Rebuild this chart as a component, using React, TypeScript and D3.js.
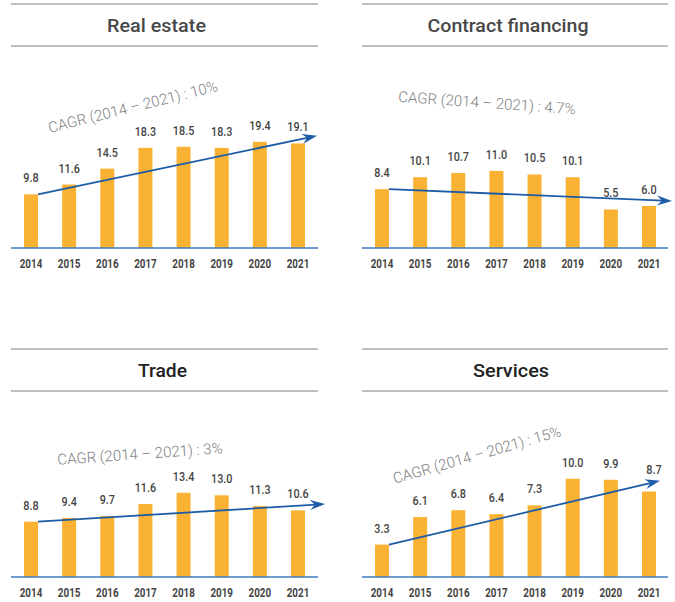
import React from "react";
import * as d3 from "d3";

const years = ["2014", "2015", "2016", "2017", "2018", "2019", "2020", "2021"];
const titles = ["Real estate", "Contract financing", "Trade", "Services"];
const realEstate = [9.8, 11.6, 14.5, 18.3, 18.5, 18.3, 19.4, 19.1];
const contractFinancing = [8.4, 10.1, 10.7, 11.0, 10.5, 10.1, 5.5, 6.0];
const trade = [8.8, 9.4, 9.7, 11.6, 13.4, 13.0, 11.3, 10.6];
const services = [3.3, 6.1, 6.8, 6.4, 7.3, 10.0, 9.9, 8.7];
const cagrLabels = [
  "CAGR (2014 – 2021) : 10%",
  "CAGR (2014 – 2021) : 4.7%",
  "CAGR (2014 – 2021) : 3%",
  "CAGR (2014 – 2021) : 15%",
];
const trendEnd = [20.5, 6.7, 11.6, 9.8];
const seriesList = [realEstate, contractFinancing, trade, services];

// layout per panel
const layout = [
  { x0: 11, x1: 318, top: 4, base: 248, dMax: 20.1, tipDx: 306, cagr: [122, -141, -14], titleDx: -8, titleW: 99, titleFill: "#484848", lastDx: 0, lastDy: 0 },
  { x0: 362, x1: 668, top: 4, base: 248, dMax: 15.7, tipDx: 310, cagr: [125, -145, 4], titleDx: -7, titleW: 161, titleFill: "#484848", lastDx: 0, lastDy: 0 },
  { x0: 11, x1: 318, top: 349, base: 577, dMax: 17.5, tipDx: 314, cagr: [129, -123, -4], titleDx: -2, titleW: 49, titleFill: "#222222", lastDx: 0, lastDy: 0 },
  { x0: 362, x1: 668, top: 349, base: 577, dMax: 11.2, tipDx: 298, cagr: [115, -122, -16], titleDx: -4, titleW: 76, titleFill: "#222222", lastDx: 5, lastDy: -6 },
];

const FONT = "Roboto, 'DejaVu Sans', sans-serif";
const BAR = "#F9B233";
const ARROW = "#1D5CA6";
const BASE = "#3C7DC0";
const RULE = "#AAAAAA";

function NarrowText({ x, y, size, sx, weight, children }: { x: number; y: number; size: number; sx: number; weight: number; children: React.ReactNode }) {
  return (
    <g transform={`translate(${x},${y}) scale(${sx},1)`}>
      <text x={0} y={0} textAnchor="middle" fontFamily={FONT} fontWeight={weight} fontSize={size} fill="#444444">
        {children}
      </text>
    </g>
  );
}

function Panel({ i }: { i: number }) {
  const L = layout[i];
  const values = seriesList[i];
  const x = d3.scalePoint<string>().domain(years).range([L.x0 + 20, L.x0 + 287]);
  const y = d3.scaleLinear().domain([0, L.dMax]).range([L.base, L.base - 110]);
  const bw = 14;
  const sx = (x(years[0]) as number) + bw / 2;
  const sy = y(values[0]);
  const tx = L.x0 + L.tipDx;
  const ty = y(trendEnd[i]);
  const ang = Math.atan2(ty - sy, tx - sx);
  const headLen = 13;
  const headW = 5;
  const c = Math.cos(ang);
  const s = Math.sin(ang);
  const bx = tx - headLen * c;
  const by = ty - headLen * s;
  const px = -s;
  const py = c;
  const head: [number, number][] = [
    [tx, ty],
    [bx + px * headW - 2 * c, by + py * headW - 2 * s],
    [bx + 3 * c, by + 3 * s],
    [bx - px * headW - 2 * c, by - py * headW - 2 * s],
  ];
  const line = d3.line();
  const lineEnd: [number, number] = [bx + 4 * c, by + 4 * s];
  const midX = (L.x0 + L.x1) / 2 + L.titleDx;
  const last = values.length - 1;
  return (
    <g>
      <line x1={L.x0} x2={L.x1} y1={L.top} y2={L.top} stroke={RULE} strokeWidth={1.5} />
      <line x1={L.x0} x2={L.x1} y1={L.top + 42} y2={L.top + 42} stroke={RULE} strokeWidth={1.5} />
      <text
        x={midX}
        y={L.top + 28}
        textAnchor="middle"
        fontFamily={FONT}
        fontWeight={500}
        fontSize={19}
        textLength={L.titleW}
        lengthAdjust="spacingAndGlyphs"
        fill={L.titleFill}
      >
        {titles[i]}
      </text>
      {values.map((v, k) => (
        <rect
          key={years[k]}
          x={(x(years[k]) as number) - bw / 2}
          y={y(v)}
          width={bw}
          height={L.base - y(v)}
          fill={BAR}
        />
      ))}
      <line x1={L.x0} x2={L.x1} y1={L.base} y2={L.base} stroke={BASE} strokeWidth={1.5} />
      {values.map((v, k) => (
        <NarrowText
          key={"v" + years[k]}
          x={(x(years[k]) as number) + (k === last ? L.lastDx : 0)}
          y={y(v) - 12 + (k === last ? L.lastDy : 0)}
          size={13.5}
          sx={0.8}
          weight={500}
        >
          {v.toFixed(1)}
        </NarrowText>
      ))}
      {years.map((yr) => (
        <NarrowText key={"y" + yr} x={x(yr) as number} y={L.base + 20} size={12} sx={0.82} weight={700}>
          {yr}
        </NarrowText>
      ))}
      <path d={line([[sx, sy], lineEnd]) || ""} stroke={ARROW} strokeWidth={1.8} fill="none" />
      <path d={line(head) + "Z"} fill={ARROW} />
      <text
        transform={`translate(${L.x0 + L.cagr[0]},${L.base + L.cagr[1]}) rotate(${L.cagr[2]})`}
        textAnchor="middle"
        dominantBaseline="central"
        fontFamily={FONT}
        fontWeight={300}
        fontSize={15}
        fill="#808080"
      >
        {cagrLabels[i]}
      </text>
    </g>
  );
}

export default function App() {
  return (
    <svg
      width={675}
      height={602}
      style={{ position: "absolute", left: 0, top: 0, background: "#fff" }}
    >
      <rect width={675} height={602} fill="#ffffff" />
      {[0, 1, 2, 3].map((i) => (
        <Panel key={i} i={i} />
      ))}
    </svg>
  );
}
